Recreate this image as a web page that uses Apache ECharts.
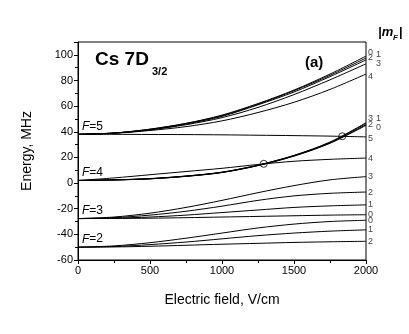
<!DOCTYPE html>
<html>
<head>
<meta charset="utf-8">
<script src="https://cdn.jsdelivr.net/npm/echarts@6/dist/echarts.min.js"></script>
<style>
  html, body { margin: 0; padding: 0; background: #fff; }
  #chart { width: 409px; height: 334px; }
</style>
</head>
<body>
<div id="chart"></div>
<script>
// electric field, V/cm
var fields = [0, 250, 500, 750, 1000, 1250, 1500, 1750, 2000];

// F=5, |mF| = 0..5 (MHz)
var f5m0 = [38, 39, 42, 46.5, 53, 62, 72.5, 85, 99];
var f5m1 = [38, 39, 42, 46.5, 52.5, 61.5, 72, 84, 97.5];
var f5m2 = [38, 39, 41.5, 46, 52, 61, 71, 83, 96];
var f5m3 = [38, 39, 41.5, 45.5, 51, 59, 69, 80.5, 93];
var f5m4 = [38, 38.8, 41, 44, 48.5, 55, 63, 73, 85];
var f5m5 = [38, 38, 37.9, 37.8, 37.6, 37.3, 37, 36.6, 36];

// F=4
var f4m0 = [2, 2.4, 3.3, 5.2, 8.2, 13.6, 21, 31, 45];
var f4m1 = [2, 2.5, 3.4, 5.4, 8.4, 13.9, 21.4, 31.6, 46.5];
var f4m2 = [2, 2.4, 3.3, 5.3, 8.3, 13.7, 21.2, 31.3, 45.5];
var f4m3 = [2, 2.5, 3.5, 5.5, 8.5, 14, 21.6, 32, 47];
var f4m4 = [2, 4, 6.5, 9, 11.5, 14.5, 17, 18.5, 19.5];

// F=3
var f3m0 = [-27.7, -27.6, -27.4, -27, -26.5, -26, -25.5, -25, -24.7];
var f3m1 = [-27.7, -27.4, -26.5, -25, -23, -21, -19, -17.8, -17];
var f3m2 = [-27.7, -27, -25, -22, -18, -13.5, -10, -8, -7];
var f3m3 = [-27.7, -26.5, -23.5, -19, -13.5, -7.5, -2, 2.5, 5];

// F=2
var f2m0 = [-50, -49, -46.5, -43, -39, -35, -32, -30, -29];
var f2m1 = [-50, -49.5, -48, -46, -43.5, -41, -39, -37.5, -36.5];
var f2m2 = [-50, -49.8, -49.3, -48.5, -47.7, -47, -46.3, -45.8, -45.4];

// level crossings marked with circles
var crossX = [1290, 1835];
var crossY = [15, 36.5];

// labels at the right edge: [name, values, |mF| label, dx, dy]
var curves = [
  ["F5m0", f5m0, "0", 0, -4],
  ["F5m1", f5m1, "1", 8, -4],
  ["F5m2", f5m2, "2", 0, -2],
  ["F5m3", f5m3, "3", 8, 0],
  ["F5m4", f5m4, "4", 0, 2],
  ["F5m5", f5m5, "5", 0, 2],
  ["F4m0", f4m0, "0", 8, 2],
  ["F4m1", f4m1, "1", 8, -5],
  ["F4m2", f4m2, "2", 0, 0],
  ["F4m3", f4m3, "3", 0, -4],
  ["F4m4", f4m4, "4", 0, 0],
  ["F3m0", f3m0, "0", 0, 0],
  ["F3m1", f3m1, "1", 0, 0],
  ["F3m2", f3m2, "2", 0, 0],
  ["F3m3", f3m3, "3", 0, 0],
  ["F2m0", f2m0, "0", 0, 0],
  ["F2m1", f2m1, "1", 0, 0],
  ["F2m2", f2m2, "2", 0, 0]
];

// F labels: [text, field, energy at zero field]
var fLabels = [["5", 0, 38], ["4", 0, 2], ["3", 0, -27.7], ["2", 0, -50]];

var font = "'Liberation Sans', Arial, sans-serif";
var myChart = echarts.init(document.getElementById("chart"));

var series = curves.map(function (c) {
  return {
    name: c[0],
    type: "line",
    smooth: 0.3,
    showSymbol: false,
    silent: true,
    data: fields.map(function (f, i) { return [f, c[1][i]]; }),
    lineStyle: { color: "#000", width: 1 },
    endLabel: {
      show: true,
      formatter: c[2],
      distance: 2,
      offset: [c[3], c[4]],
      fontSize: 9,
      fontFamily: font,
      color: "#444"
    }
  };
});

series.push({
  type: "scatter",
  symbol: "circle",
  symbolSize: 7,
  silent: true,
  data: crossX.map(function (x, i) { return [x, crossY[i]]; }),
  itemStyle: { color: "rgba(0,0,0,0)", borderColor: "#000", borderWidth: 1 },
  z: 5
});

var option = {
  animation: false,
  backgroundColor: "#fff",
  grid: {
    left: 78, right: 43, top: 42, bottom: 74,
    show: true, borderColor: "#000", borderWidth: 1, backgroundColor: "transparent"
  },
  xAxis: {
    type: "value",
    min: 0, max: 2000, interval: 500,
    name: "Electric field, V/cm",
    nameLocation: "middle",
    nameGap: 33,
    nameTextStyle: { fontSize: 14, fontFamily: font, color: "#000" },
    axisLine: { onZero: false, lineStyle: { color: "#000", width: 1 } },
    axisTick: { length: 4, lineStyle: { color: "#000" } },
    minorTick: { show: true, splitNumber: 2, length: 3, lineStyle: { color: "#000" } },
    axisLabel: {
      fontSize: 11, fontFamily: font, color: "#000", margin: 5,
      formatter: function (v) { return String(v); }
    },
    splitLine: { show: false }
  },
  yAxis: {
    type: "value",
    min: -60, max: 110, interval: 20,
    name: "Energy, MHz",
    nameLocation: "middle",
    nameGap: 44,
    nameTextStyle: { fontSize: 14, fontFamily: font, color: "#000" },
    axisLine: { onZero: false, lineStyle: { color: "#000", width: 1 } },
    axisTick: { length: 4, lineStyle: { color: "#000" } },
    minorTick: { show: true, splitNumber: 2, length: 3, lineStyle: { color: "#000" } },
    axisLabel: { fontSize: 11, fontFamily: font, color: "#000", margin: 5, showMaxLabel: false },
    splitLine: { show: false }
  },
  series: series
};
myChart.setOption(option);

// text labels placed from data coordinates
var graphics = [
  { type: "text", left: 95, top: 50, style: { text: "Cs 7D", font: "bold 19px " + font, fill: "#000" } },
  { type: "text", left: 152, top: 66, style: { text: "3/2", font: "bold 11px " + font, fill: "#000" } },
  { type: "text", left: 305, top: 55, style: { text: "(a)", font: "bold 15px " + font, fill: "#000" } },
  { type: "text", left: 378, top: 26, style: { text: "|m", font: "italic bold 13px " + font, fill: "#000" } },
  { type: "text", left: 393, top: 34, style: { text: "F", font: "italic bold 8px " + font, fill: "#000" } },
  { type: "text", left: 399, top: 26, style: { text: "|", font: "bold 13px " + font, fill: "#000" } }
];
fLabels.forEach(function (l) {
  var p = myChart.convertToPixel({ gridIndex: 0 }, [l[1], l[2]]);
  graphics.push({
    type: "text",
    x: p[0] + 4,
    y: p[1] - 14,
    style: {
      text: "{i|F}=" + l[0],
      font: "12px " + font,
      fill: "#000",
      rich: { i: { fontStyle: "italic", fontSize: 12, fontFamily: font } }
    }
  });
});
myChart.setOption({ graphic: graphics });
</script>
</body>
</html>
